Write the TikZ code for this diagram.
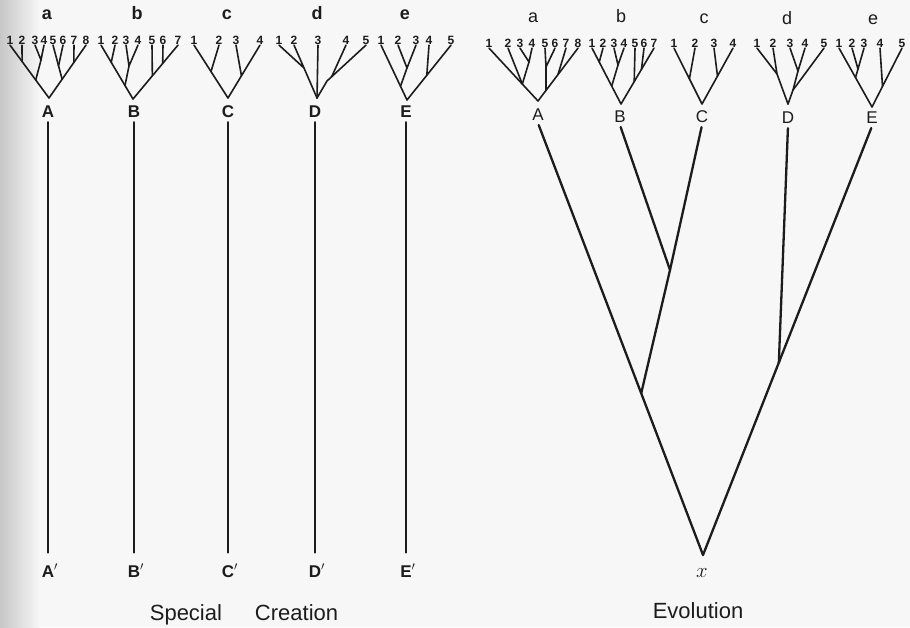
\documentclass[tikz,border=0pt]{standalone}
\usepackage{fontspec}
\setmainfont{Liberation Sans}
\usetikzlibrary{calc}
\definecolor{paper}{HTML}{F7F7F7}
\definecolor{ink}{HTML}{1C1C1C}
\begin{document}
\begin{tikzpicture}[x=1pt,y=-1pt,
  leafL/.style={font=\fontsize{12}{12}\selectfont\bfseries, inner sep=0.6pt, text height=8.6pt, text depth=0pt, text=ink},
  leafR/.style={font=\fontsize{12}{12}\selectfont\bfseries, inner sep=0.6pt, text height=8.6pt, text depth=0pt, text=ink},
  twig/.style={draw=ink, line width=1.6pt, line cap=round, line join=round},
  trunk/.style={draw=ink, line width=2.3pt, line cap=round, line join=round},
  grpL/.style={font=\fontsize{18}{18}\selectfont\bfseries, anchor=base, inner sep=0pt, text=ink},
  grpR/.style={font=\fontsize{18}{18}\selectfont, anchor=base, inner sep=0pt, text=ink},
  rootL/.style={font=\fontsize{17}{17}\selectfont\bfseries, anchor=base, inner sep=3pt, text height=12.3pt, text depth=0pt, text=ink},
  rootR/.style={font=\fontsize{17}{17}\selectfont, anchor=base, inner sep=3pt, text height=12.3pt, text depth=0pt, text=ink},
  caption/.style={font=\fontsize{22}{22}\selectfont, anchor=base, inner sep=0pt, text=ink},
]
\fill[paper] (0,0) rectangle (910,627);
\shade[left color=black!22, right color=paper] (0,0) rectangle (40,627);
\useasboundingbox (0,0) rectangle (910,627);

% ================= SPECIAL CREATION =================
% --- group a ---
\node[grpL] (lga) at (47,19) {a};
\foreach \i/\x in {1/10,2/22,3/35,4/44,5/53,6/63,7/74,8/86} \node[leafL] (la\i) at (\x,40) {\i};
\coordinate (laO) at (49,98);
\coordinate (la34) at (41,60);
\coordinate (la56) at (58.5,66);
\draw[twig] (la1.south) -- (laO) -- (la8.south);
\draw[twig] (la2.south) -- ($(laO)!0.69!(la1.south)$);
\draw[twig] (la3.south) -- (la34) -- (la4.south);
\draw[twig] (la34) -- ($(laO)!0.34!(la1.south)$);
\draw[twig] (la5.south) -- ($(laO)!0.355!(la8.south)$);
\draw[twig] (la6.south) -- (la56);
\draw[twig] (la7.south) -- ($(laO)!0.67!(la8.south)$);

% --- group b ---
\node[grpL] (lgb) at (137,19) {b};
\foreach \i/\x in {1/101,2/115,3/126,4/138,5/152,6/163,7/178} \node[leafL] (lb\i) at (\x,40) {\i};
\coordinate (lbO) at (133,99);
\coordinate (lb34) at (129,66);
\draw[twig] (lb1.south) -- (lbO) -- (lb7.south);
\draw[twig] (lb2.south) -- ($(lbO)!0.68!(lb1.south)$);
\draw[twig] (lb3.south) -- (lb34) -- (lb4.south);
\draw[twig] (lb34) -- ($(lbO)!0.25!(lb1.south)$);
\draw[twig] (lb5.south) -- ($(lbO)!0.43!(lb7.south)$);
\draw[twig] (lb6.south) -- ($(lbO)!0.66!(lb7.south)$);

% --- group c ---
\node[grpL] (lgc) at (227,19) {c};
\foreach \i/\x in {1/194,2/219,3/236,4/260} \node[leafL] (lc\i) at (\x,40) {\i};
\coordinate (lcO) at (228,98);
\draw[twig] (lc1.south) -- (lcO) -- (lc4.south);
\draw[twig] (lc2.south) -- ($(lcO)!0.5!(lc1.south)$);
\draw[twig] (lc3.south) -- ($(lcO)!0.42!(lc4.south)$);

% --- group d ---
\node[grpL] (lgd) at (317,19) {d};
\foreach \i/\x in {1/279,2/294,3/318,4/346,5/366} \node[leafL] (ld\i) at (\x,40) {\i};
\coordinate (ldO) at (317,98);
\coordinate (ld12) at (304,68);
\coordinate (ld45) at (327,81);
\draw[twig] (ld1.south) -- (ld12) -- (ld2.south);
\draw[twig] (ld12) -- (ldO);
\draw[twig] (ld3.south) -- (ldO);
\draw[twig] (ld5.south) -- (ld45) -- (ldO);
\draw[twig] (ld4.south) -- ($(ld45)!0.12!(ld5.south)$);

% --- group e ---
\node[grpL] (lge) at (405,19) {e};
\foreach \i/\x in {1/381,2/398,3/416,4/429,5/451} \node[leafL] (le\i) at (\x,40) {\i};
\coordinate (leO) at (407,100);
\coordinate (le23) at (407,68);
\draw[twig] (le1.south) -- (leO) -- (le5.south);
\draw[twig] (le2.south) -- (le23) -- (le3.south);
\draw[twig] (le23) -- ($(leO)!0.25!(le1.south)$);
\draw[twig] (le4.south) -- ($(leO)!0.45!(le5.south)$);

% --- roots and separate lines ---
\node[rootL] (LA) at (48,117) {A};
\node[rootL] (LB) at (134,117) {B};
\node[rootL] (LC) at (228,117) {C};
\node[rootL] (LD) at (315,117) {D};
\node[rootL] (LE) at (406,117) {E};
\node[rootL] (LAp) at (48,577) {A\rlap{$'$}};
\node[rootL] (LBp) at (134,577) {B\rlap{$'$}};
\node[rootL] (LCp) at (228,577) {C\rlap{$'$}};
\node[rootL] (LDp) at (315,577) {D\rlap{$'$}};
\node[rootL] (LEp) at (406,577) {E\rlap{$'$}};
\foreach \n in {A,B,C,D,E}
  \draw[trunk, shorten <=2pt, shorten >=9pt] (L\n.south) -- (L\n p.north);

\node[caption] (sc) at (244,620) {Special\hspace{33pt}Creation};

% ================= EVOLUTION =================
% --- group a ---
\node[grpR] (rga) at (533,22) {a};
\foreach \i/\x in {1/489,2/508,3/520,4/532,5/545,6/555,7/566,8/578} \node[leafR] (ra\i) at (\x,43) {\i};
\coordinate (raO) at (538,101);
\coordinate (ra34) at (529,62);
\coordinate (ra56) at (546,67);
\coordinate (ra2j) at ($(raO)!0.32!(ra1.south)$);
\draw[twig] (ra1.south) -- (raO) -- (ra8.south);
\draw[twig] (ra3.south) -- (ra34) -- (ra4.south);
\draw[twig] (ra2.south) -- (ra2j);
\draw[twig] (ra34) -- (ra2j);
\draw[twig] (ra5.south) -- (ra56) -- (ra6.south);
\draw[twig] (ra56) -- ($(raO)!0.2!(ra8.south)$);
\draw[twig] (ra7.south) -- ($(raO)!0.5!(ra8.south)$);

% --- group b ---
\node[grpR] (rgb) at (621,22) {b};
\foreach \i/\x in {1/592,2/603,3/614,4/624,5/635,6/644,7/654} \node[leafR] (rb\i) at (\x,43) {\i};
\coordinate (rbO) at (621,104);
\coordinate (rb34) at (618,65);
\draw[twig] (rb1.south) -- (rbO) -- (rb7.south);
\draw[twig] (rb2.south) -- ($(rbO)!0.75!(rb1.south)$);
\draw[twig] (rb3.south) -- (rb34) -- (rb4.south);
\draw[twig] (rb34) -- ($(rbO)!0.32!(rb1.south)$);
\draw[twig] (rb5.south) -- ($(rbO)!0.4!(rb7.south)$);
\draw[twig] (rb6.south) -- ($(rbO)!0.62!(rb7.south)$);

% --- group c ---
\node[grpR] (rgc) at (704,23) {c};
\foreach \i/\x in {1/674,2/695,3/714,4/733} \node[leafR] (rc\i) at (\x,43) {\i};
\coordinate (rcO) at (702,104);
\draw[twig] (rc1.south) -- (rcO) -- (rc4.south);
\draw[twig] (rc2.south) -- ($(rcO)!0.45!(rc1.south)$);
\draw[twig] (rc3.south) -- ($(rcO)!0.5!(rc4.south)$);

% --- group d ---
\node[grpR] (rgd) at (787,24) {d};
\foreach \i/\x in {1/757,2/773,3/790,4/805,5/824} \node[leafR] (rd\i) at (\x,43) {\i};
\coordinate (rdO) at (788,104);
\coordinate (rd12) at (777,74);
\coordinate (rd34) at (798,71);
\coordinate (rd345) at (793,90);
\draw[twig] (rd1.south) -- (rd12) -- (rd2.south);
\draw[twig] (rd12) -- (rdO);
\draw[twig] (rd3.south) -- (rd34) -- (rd4.south);
\draw[twig] (rd34) -- (rd345);
\draw[twig] (rd5.south) -- (rd345) -- (rdO);

% --- group e ---
\node[grpR] (rge) at (873,24) {e};
\foreach \i/\x in {1/839,2/852,3/864,4/880,5/902} \node[leafR] (re\i) at (\x,43) {\i};
\coordinate (reO) at (872,107);
\coordinate (re23) at (858,69);
\draw[twig] (re1.south) -- (reO) -- (re5.south);
\draw[twig] (re2.south) -- (re23) -- (re3.south);
\draw[twig] (re23) -- ($(reO)!0.5!(re1.south)$);
\draw[twig] (re4.south) -- ($(reO)!0.35!(re5.south)$);

% --- roots ---
\node[rootR] (RA) at (538,120) {A};
\node[rootR] (RB) at (620,122) {B};
\node[rootR] (RC) at (702,122) {C};
\node[rootR] (RD) at (788,123) {D};
\node[rootR] (RE) at (872,123) {E};

\node[font=\fontsize{21}{21}\selectfont, anchor=base, inner sep=0pt, text=ink] (xo) at (702,577) {$x$};
\coordinate (xv) at (703,555);
\coordinate (ej1) at ($(RA.south)!(642,393)!(xv)$);
\coordinate (ej2) at (670,270);
\coordinate (ej3) at ($(xv)!(780,363)!(RE.south)$);
\draw[trunk, shorten <=2pt] (RA.south) -- (xv);
\draw[trunk, shorten >=2pt] (xv) -- (RE.south);
\draw[trunk, shorten <=2pt] (RB.south) -- (ej2);
\draw[trunk, shorten <=2pt] (RC.south) -- (ej2);
\draw[trunk] (ej2) -- (ej1);
\draw[trunk, shorten <=2pt] (RD.south) -- (ej3);

\node[caption] (ev) at (698,618) {Evolution};
\end{tikzpicture}
\end{document}
